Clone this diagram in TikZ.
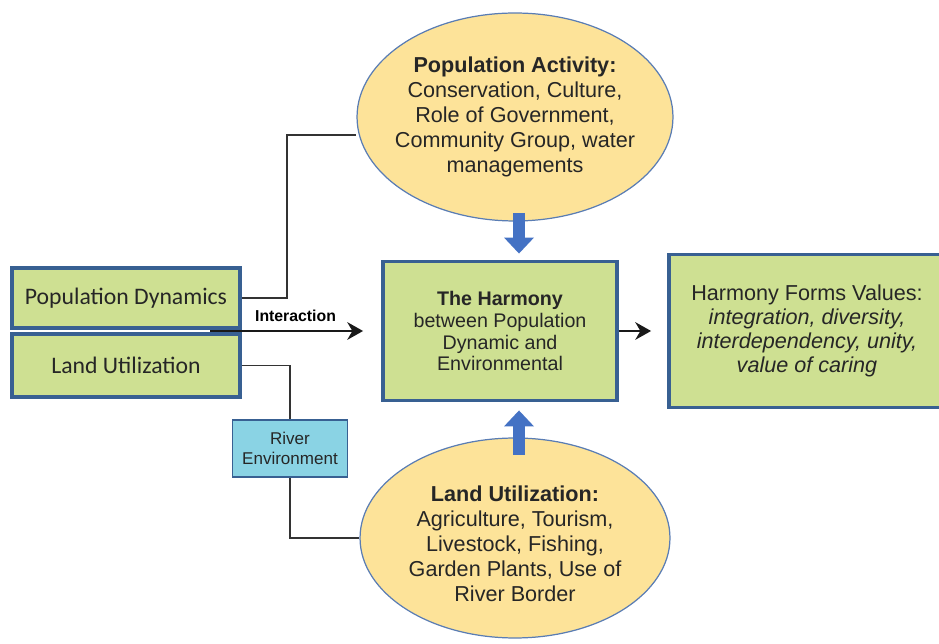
\documentclass[tikz,border=0pt]{standalone}
\usepackage{fontspec}
\setmainfont{Liberation Sans}
\newfontfamily\calibfont{Carlito}
\usetikzlibrary{arrows.meta,shapes.geometric}

\definecolor{boxgreen}{RGB}{206,224,146}
\definecolor{boxborder}{RGB}{56,96,146}
\definecolor{ovalyellow}{RGB}{253,227,153}
\definecolor{ovalborder}{RGB}{90,125,180}
\definecolor{riverblue}{RGB}{138,211,228}
\definecolor{arrowblue}{RGB}{68,114,196}

\tikzset{
  greenbox/.style={draw=boxborder, line width=2.2pt, fill=boxgreen, inner sep=0pt, align=center, text=black!85},
  oval/.style={ellipse, draw=ovalborder, line width=0.7pt, fill=ovalyellow, inner sep=0pt},
  ovaltext/.style={align=center, text=black!85, font=\fontsize{12.3}{14.2}\selectfont},
  link/.style={draw=black!80, line width=1.1pt},
  blackarrow/.style={draw=black!90, line width=1.6pt, -{Stealth[length=9pt,width=10pt]}},
  bluearrow/.style={draw=arrowblue, line width=0.24cm, -{Triangle[width=0.58cm,length=0.32cm]}},
}

\begin{document}
\begin{tikzpicture}[x=0.02cm,y=-0.02cm]

\useasboundingbox (0,0) rectangle (939,644);

% ellipses
\node [oval, minimum width=6.32cm, minimum height=4.16cm,
  label={[ovaltext]center:{\textbf{Population Activity:}\\ Conservation, Culture,\\ Role of Government,\\ Community Group, water\\ managements}}]
  (act) at (515,117) {};
\node [oval, minimum width=6.2cm, minimum height=4.0cm,
  label={[ovaltext, yshift=-0.12cm]center:{\textbf{Land Utilization:}\\ Agriculture, Tourism,\\ Livestock, Fishing,\\ Garden Plants, Use of\\ River Border}}]
  (land) at (515,538) {};

% boxes
\node [greenbox, minimum width=4.56cm, minimum height=1.2cm, font=\calibfont\fontsize{13.5}{15}\selectfont] (popdyn) at (126,298) {Population Dynamics};
\node [greenbox, minimum width=4.56cm, minimum height=1.26cm, font=\calibfont\fontsize{13.5}{15}\selectfont] (landuse) at (126,365.5) {Land Utilization};
\node [greenbox, minimum width=4.68cm, minimum height=2.78cm, font=\fontsize{11.2}{12.5}\selectfont] (harm) at (500,331)
  {\textbf{The Harmony}\\ between Population\\ Dynamic and\\ Environmental};
\node [greenbox, minimum width=5.52cm, minimum height=3.06cm, font=\fontsize{12.3}{13.6}\selectfont] (val) at (807,331)
  {Harmony Forms Values:\\ \textit{integration, diversity,}\\ \textit{interdependency, unity,}\\ \textit{value of caring}};
\node [draw=boxborder, line width=0.8pt, fill=riverblue, align=center, inner sep=0pt, text=black!85,
  minimum width=2.3cm, minimum height=1.14cm, font=\fontsize{9.7}{11.4}\selectfont] (river) at (290,448.5) {River\\ Environment};

\coordinate (actjoint) at (287,135);
\coordinate (intstart) at (210,331);
\coordinate (downtail) at (519,213);
\coordinate (uptail) at (519,455);

% connectors
\draw [link] (popdyn.east) -| (actjoint) -- (actjoint -| act.west);
\draw [link] (landuse.east) -| (river.north);
\draw [link] (river.south) |- (land.west);

\draw [blackarrow, shorten >=0.36cm] (intstart) -- (intstart -| harm.west)
  node [midway, above=1pt, font=\bfseries\fontsize{9}{10}\selectfont] {Interaction};
\draw [blackarrow, shorten >=0.32cm] (harm.east) -- (harm.east -| val.west);

\draw [bluearrow, shorten >=0.12cm] (downtail) -- (downtail |- harm.north);
\draw [bluearrow, shorten >=0.16cm] (uptail) -- (uptail |- harm.south);

\end{tikzpicture}
\end{document}
